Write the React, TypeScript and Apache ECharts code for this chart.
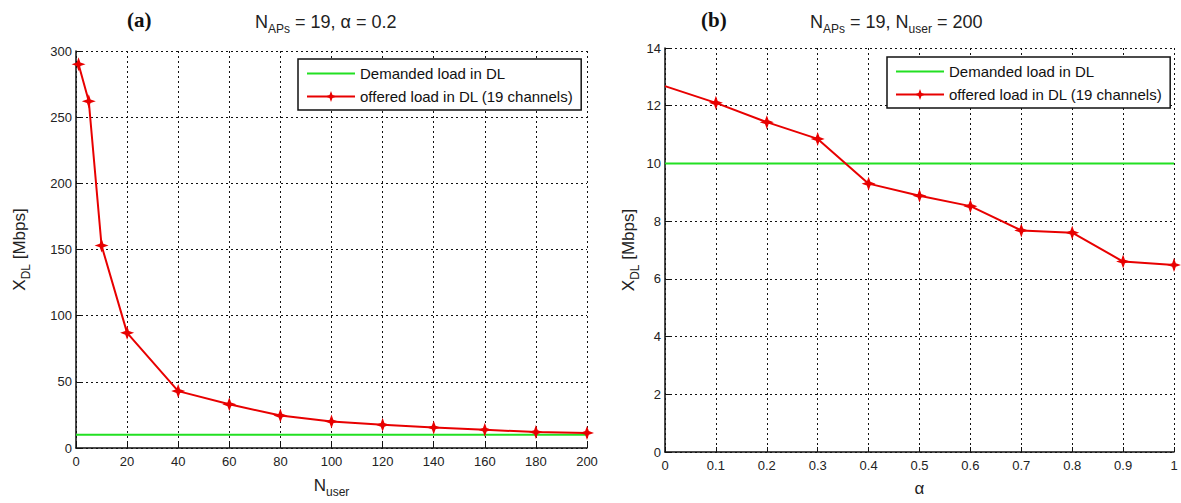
import React, { useEffect, useRef } from 'react';
import * as echarts from 'echarts';

// ---- data ----
const usersX = [1, 5, 10, 20, 40, 60, 80, 100, 120, 140, 160, 180, 200];
const offeredA = [290, 262, 153, 87, 43, 33, 24.5, 20, 17.5, 15.5, 13.8, 12, 11.4];
const demandA = 10;
const xRangeA = [0, 200];

const alphaX = [0, 0.1, 0.2, 0.3, 0.4, 0.5, 0.6, 0.7, 0.8, 0.9, 1];
const offeredB = [12.68, 12.1, 11.43, 10.85, 9.3, 8.88, 8.52, 7.68, 7.6, 6.6, 6.48];
const demandB = 10;
const xRangeB = [0, 1];

const legendNames = ['Demanded load in DL', 'offered load in DL (19 channels)'];

const FONT = 'Liberation Sans, Arial, sans-serif';
const STAR = 'path://M0,-10 L2.6,-2.6 L10,0 L2.6,2.6 L0,10 L-2.6,2.6 L-10,0 L-2.6,-2.6 Z';
const RED = '#e80000';
const GREEN = '#22e022';

const gridLine = { show: true, lineStyle: { color: '#111', width: 1, type: [2, 3] as any } };
const axisLine = { show: true, onZero: false, lineStyle: { color: '#111', width: 1.5 } };
const axisTick = { show: true, inside: true, length: 5, lineStyle: { color: '#111' } };
const labelStyle = { fontFamily: FONT, fontSize: 13, color: '#222' };

const richTitle = {
  n: { fontFamily: FONT, fontSize: 18, fontWeight: 'normal', color: '#222', lineHeight: 26, verticalAlign: 'middle' },
  s: { fontFamily: FONT, fontSize: 12, fontWeight: 'normal', color: '#222', lineHeight: 26, verticalAlign: 'bottom' },
};
const richAxis = {
  n: { fontFamily: FONT, fontSize: 17, fontWeight: 'normal', color: '#222', lineHeight: 26, verticalAlign: 'middle' },
  s: { fontFamily: FONT, fontSize: 12, fontWeight: 'normal', color: '#222', lineHeight: 26, verticalAlign: 'bottom' },
};

const legendData = [
  { name: legendNames[0], icon: 'path://M0,0 H48 V2 H0 Z' },
  { name: legendNames[1] },
];

export default function App() {
  const ref = useRef<HTMLDivElement>(null);
  useEffect(() => {
    document.body.style.margin = '0';
    const chart = echarts.init(ref.current!, undefined, { renderer: 'svg' });
    const legendBase = {
      orient: 'vertical', data: legendData,
      itemWidth: 48, itemHeight: 14, itemGap: 8,
      padding: [7, 8, 6, 8], borderColor: '#111', borderWidth: 1.5, backgroundColor: '#fff',
      textStyle: { fontFamily: FONT, fontSize: 15, color: '#111' },
    };
    chart.setOption({
      animation: false,
      backgroundColor: '#fff',
      title: [
        { text: '(a)', left: 122, top: 4, textStyle: { fontFamily: 'Liberation Serif, serif', fontWeight: 'bold', fontSize: 21, color: '#111' } },
        { text: '{n|N}{s|APs}{n| = 19, α = 0.2}', left: 250, top: 4, textStyle: { fontWeight: 'normal', rich: richTitle } },
        { text: '(b)', left: 696, top: 4, textStyle: { fontFamily: 'Liberation Serif, serif', fontWeight: 'bold', fontSize: 21, color: '#111' } },
        { text: '{n|N}{s|APs}{n| = 19, N}{s|user}{n| = 200}', left: 805, top: 4, textStyle: { fontWeight: 'normal', rich: richTitle } },
      ],
      grid: [
        { left: 76, top: 51, width: 511, height: 397 },
        { left: 665, top: 48, width: 509, height: 404 },
      ],
      xAxis: [
        {
          type: 'value', gridIndex: 0, min: 0, max: 200, interval: 20,
          axisLine, axisTick, splitLine: gridLine,
          axisLabel: { ...labelStyle, margin: 7 },
          name: '{n|N}{s|user}', nameLocation: 'middle', nameGap: 24,
          nameTextStyle: { rich: richAxis },
        },
        {
          type: 'value', gridIndex: 1, min: 0, max: 1, interval: 0.1,
          axisLine, axisTick, splitLine: gridLine,
          axisLabel: { ...labelStyle, margin: 7, formatter: (v: number) => String(+v.toFixed(1)) },
          name: 'α', nameLocation: 'middle', nameGap: 28,
          nameTextStyle: { fontFamily: FONT, fontSize: 17, color: '#222' },
        },
      ],
      yAxis: [
        {
          type: 'value', gridIndex: 0, min: 0, max: 300, interval: 50,
          axisLine, axisTick, splitLine: gridLine,
          axisLabel: { ...labelStyle, margin: 4 },
          name: '{n|X}{s|DL}{n| [Mbps]}', nameLocation: 'middle', nameRotate: 90, nameGap: 44,
          nameTextStyle: { rich: richAxis },
        },
        {
          type: 'value', gridIndex: 1, min: 0, max: 14, interval: 2,
          axisLine, axisTick, splitLine: gridLine,
          axisLabel: { ...labelStyle, margin: 4 },
          name: '{n|X}{s|DL}{n| [Mbps]}', nameLocation: 'middle', nameRotate: 90, nameGap: 24,
          nameTextStyle: { rich: richAxis },
        },
      ],
      legend: [
        { ...legendBase, left: 298, top: 59 },
        { ...legendBase, left: 887, top: 57 },
      ],
      series: [
        {
          name: legendNames[0], type: 'line', xAxisIndex: 0, yAxisIndex: 0,
          data: xRangeA.map((x) => [x, demandA]), symbol: 'none',
          lineStyle: { color: GREEN, width: 2 }, itemStyle: { color: GREEN },
        },
        {
          name: legendNames[1], type: 'line', xAxisIndex: 0, yAxisIndex: 0,
          data: usersX.map((x, i) => [x, offeredA[i]]), symbol: STAR, symbolSize: 14,
          lineStyle: { color: RED, width: 2 }, itemStyle: { color: RED },
        },
        {
          name: legendNames[0], type: 'line', xAxisIndex: 1, yAxisIndex: 1,
          data: xRangeB.map((x) => [x, demandB]), symbol: 'none',
          lineStyle: { color: GREEN, width: 2 }, itemStyle: { color: GREEN },
        },
        {
          name: legendNames[1], type: 'line', xAxisIndex: 1, yAxisIndex: 1,
          data: alphaX.map((x, i) => (i === 0 ? { value: [x, offeredB[i]], symbol: 'none' } : [x, offeredB[i]])),
          symbol: STAR, symbolSize: 14,
          lineStyle: { color: RED, width: 2 }, itemStyle: { color: RED },
        },
      ],
    });
    return () => chart.dispose();
  }, []);
  return <div ref={ref} style={{ width: 1181, height: 503 }} />;
}
